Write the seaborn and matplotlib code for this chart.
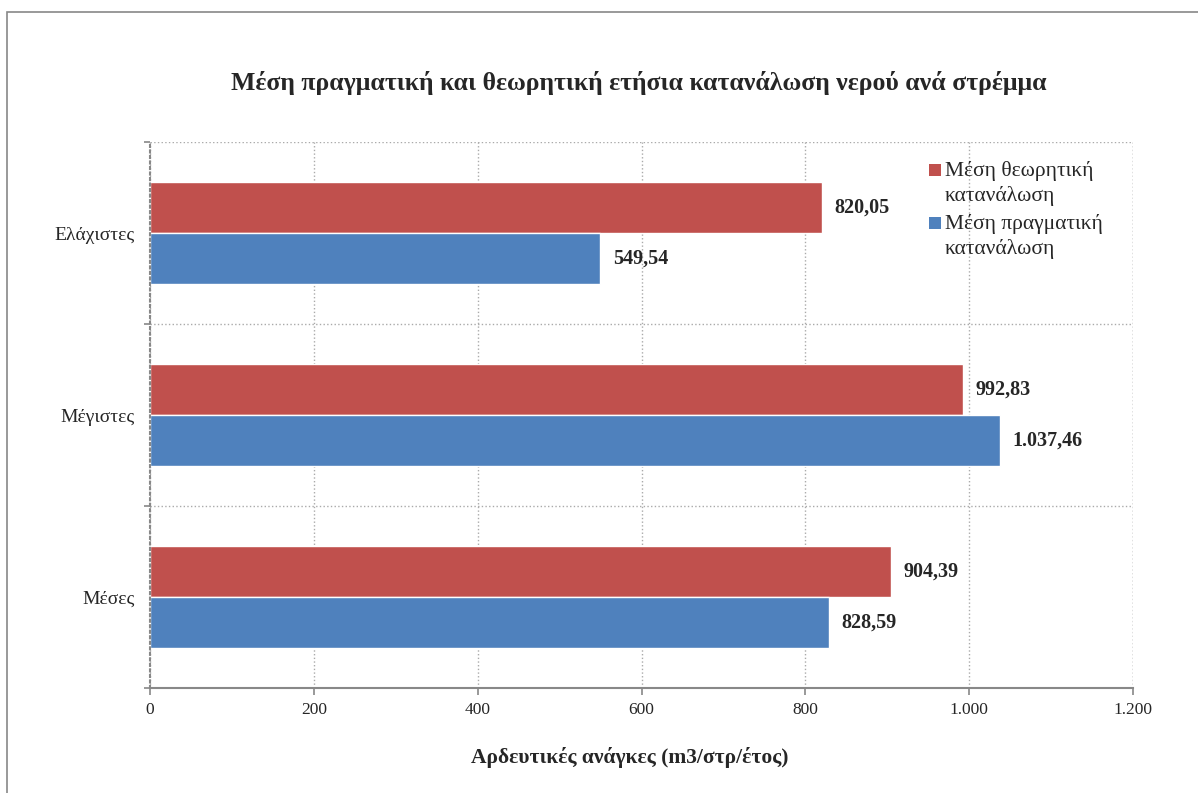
import matplotlib
matplotlib.use('Agg')
import matplotlib.pyplot as plt
import matplotlib.patches as mpatches
from matplotlib.ticker import FuncFormatter, FixedLocator
import pandas as pd
import seaborn as sns

categories = ['Ελάχιστες', 'Μέγιστες', 'Μέσες']
series_names = ['Μέση θεωρητική κατανάλωση', 'Μέση πραγματική κατανάλωση']
theoretical = [820.05, 992.83, 904.39]
actual = [549.54, 1037.46, 828.59]
colors = ['#C0504D', '#4F81BD']
x_ticks = [0, 200, 400, 600, 800, 1000, 1200]
legend_lines = [['Μέση θεωρητική', 'κατανάλωση'], ['Μέση πραγματική', 'κατανάλωση']]

W, H = 1198, 793


def gr_number(v, decimals=0):
    s = f'{v:,.{decimals}f}'
    return s.replace(',', 'X').replace('.', ',').replace('X', '.')


df = pd.DataFrame({
    'category': categories * 2,
    'series': [series_names[0]] * 3 + [series_names[1]] * 3,
    'value': theoretical + actual,
})

sns.set_style('white')
plt.rcParams['font.family'] = ['Liberation Serif', 'DejaVu Serif']

fig = plt.figure(figsize=(W / 100, H / 100), dpi=100)
ax = fig.add_axes([150 / W, 1 - 688 / H, (1133 - 150) / W, (688 - 142) / H])

sns.barplot(data=df, y='category', x='value', hue='series', order=categories,
            hue_order=series_names, palette=colors, width=0.565, orient='h',
            saturation=1, ax=ax, legend=False)

ax.set_xlim(0, 1200)
ax.set_ylim(2.5, -0.5)
ax.xaxis.set_major_locator(FixedLocator(x_ticks))
ax.xaxis.set_major_formatter(FuncFormatter(lambda v, p: gr_number(v)))
ax.grid(axis='x', color='#AAAAAA', linestyle=':', linewidth=1)
ax.yaxis.set_minor_locator(FixedLocator([-0.5, 0.5, 1.5, 2.5]))
ax.grid(axis='y', which='minor', color='#AAAAAA', linestyle=':', linewidth=1)
ax.set_axisbelow(True)

for side in ['top', 'right']:
    ax.spines[side].set_visible(False)
ax.spines['left'].set_color('#888888')
ax.spines['left'].set_linestyle(':')
ax.spines['left'].set_linewidth(1.5)
ax.spines['bottom'].set_color('#888888')
ax.spines['bottom'].set_linewidth(1.5)
ax.axvline(1200, color='#AAAAAA', linestyle=':', linewidth=1)

ax.tick_params(axis='x', which='major', direction='out', length=5, width=1.2,
               color='#888888', labelsize=12.5, pad=5, bottom=True)
ax.tick_params(axis='y', which='major', length=0, labelsize=14, pad=11)
ax.tick_params(axis='y', which='minor', direction='out', length=4, width=1.2,
               color='#888888', left=True)

for container in ax.containers:
    ax.bar_label(container, labels=[gr_number(v, 2) for v in container.datavalues],
                 padding=9, fontsize=14.5, fontweight='bold')

ax.set_ylabel('')
ax.set_xlabel('Αρδευτικές ανάγκες (m3/στρ/έτος)', fontsize=15.5, fontweight='bold')
ax.xaxis.set_label_coords((630 - 150) / 983, -(757 - 688) / 546)
ax.xaxis.label.set_va('center')
fig.text(639 / W, 1 - 83 / H,
         'Μέση πραγματική και θεωρητική ετήσια κατανάλωση νερού ανά στρέμμα',
         ha='center', va='center', fontsize=18.5, fontweight='bold')

# legend: square next to the first line of each two-line entry
square_tops = [164, 217]
line_centres = [[171, 196], [224, 249]]
for color, top, centres, lines in zip(colors, square_tops, line_centres, legend_lines):
    fig.patches.append(mpatches.Rectangle((929 / W, 1 - (top + 12) / H), 12 / W, 12 / H,
                                          transform=fig.transFigure, facecolor=color,
                                          edgecolor='none'))
    for y, line in zip(centres, lines):
        fig.text(945 / W, 1 - y / H, line, ha='left', va='center', fontsize=15.5)

fig.patches.append(mpatches.Rectangle((7 / W, -0.01), 1.1, 1 - 12 / H + 0.01,
                                      transform=fig.transFigure, fill=False,
                                      edgecolor='#888888', linewidth=1.2))

fig.savefig('out.png', dpi=100)
